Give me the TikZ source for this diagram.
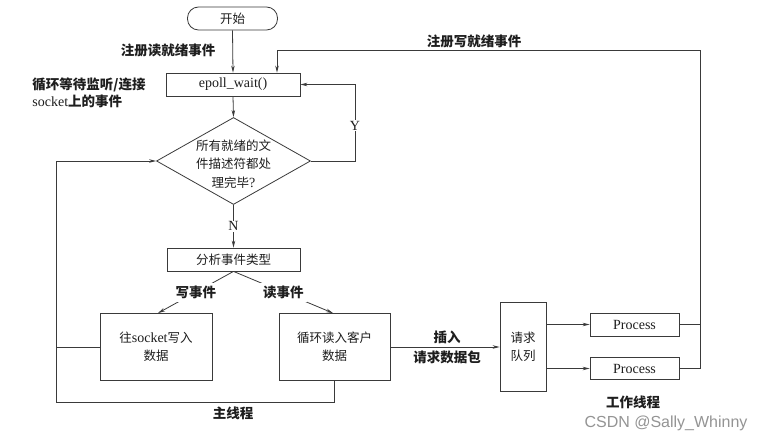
\documentclass[tikz,border=0pt]{standalone}
\usepackage{fontspec}
\setmainfont{Liberation Serif}
\newfontfamily\cjk{Noto Sans CJK SC}
\newfontfamily\wmfont{Liberation Sans}
\usetikzlibrary{shapes.geometric,arrows.meta}
\definecolor{ln}{HTML}{3A3A3A}
\definecolor{tx}{HTML}{1E1E1E}
\begin{document}
\begin{tikzpicture}[x=1pt,y=1pt,
  every node/.style={text=tx},
  conn/.style={draw=ln,line width=0.8pt},
  arr/.style={conn,-{Stealth[length=7pt,width=3.5pt]}},
  boxa/.style={draw=ln,line width=0.8pt,rectangle,inner sep=0pt,align=center,font=\cjk\fontsize{12.5}{16}\selectfont},
  lbl/.style={font=\cjk\bfseries\fontsize{13.5}{17}\selectfont,align=center,inner sep=1pt},
  lat/.style={font=\fontsize{14}{16}\selectfont}
]
\useasboundingbox (0,0) rectangle (765,-443);
\fill[white] (0,0) rectangle (765,-443);

% nodes
\node[boxa,rounded corners=11pt,minimum width=90pt,minimum height=23pt] (start) at (232.5,-18.5) {开始};
\node[boxa,minimum width=134pt,minimum height=23pt,lat] (epoll) at (233,-84.5) {epoll\_wait()};
\node[draw=ln,line width=0.8pt,diamond,minimum width=154pt,minimum height=87pt,inner sep=0pt] (dia) at (233.5,-161) {};
\node[font=\cjk\fontsize{12.5}{18.5}\selectfont,align=center] (diat) at (233.5,-164) {所有就绪的文\\件描述符都处\\理完毕{\fontsize{14}{16}\selectfont\rmfamily ?}};
\node[boxa,minimum width=133pt,minimum height=23pt] (ana) at (233.5,-259.5) {分析事件类型};
\node[boxa,minimum width=112pt,minimum height=67pt] (wbox) at (156,-347) {往{\rmfamily\fontsize{14}{16}\selectfont socket}写入\\[2pt]数据};
\node[boxa,minimum width=111pt,minimum height=67pt] (rbox) at (334.5,-347) {循环读入客户\\[2pt]数据};
\node[boxa,minimum width=46pt,minimum height=89pt] (queue) at (523,-347) {请求\\[2pt]队列};
\node[boxa,minimum width=89pt,minimum height=23pt,lat] (p1) at (634.5,-324.5) {Process};
\node[boxa,minimum width=89pt,minimum height=22pt,lat] (p2) at (634.5,-368.5) {Process};

% coordinates
\coordinate (rtop) at (700,-50);
\coordinate (yc) at (355,-161);
\coordinate (ml) at (56,-161);
\coordinate (mb) at (56,-402);

% labels
\node[lbl] (l1) at (168,-50) {注册读就绪事件};
\node[lbl] (l2) at (474,-41) {注册写就绪事件};
\node[lbl,align=left] (l3) at (89,-92.5) {循环等待监听/连接\\{\rmfamily\mdseries\fontsize{14}{16}\selectfont socket}上的事件};
\node[lbl] (l4) at (233,-413) {主线程};
\node[lbl] (l5) at (447,-337) {插入};
\node[lbl] (l6) at (447,-357) {请求数据包};
\node[lbl] (l7) at (633,-402) {工作线程};
\node[font=\wmfont\fontsize{16}{18}\selectfont,text=black!42] (wm) at (666,-423) {CSDN @Sally\_Whinny};

% connectors
\draw[arr] (start.south) -- (epoll.north);
\draw[arr] (epoll.south) -- (dia.north);
\draw[arr] (dia.east) -- (yc) |- (epoll.east) node[pos=0.23,fill=white,lat,inner sep=1pt] {Y};
\draw[arr] (dia.south) -- (ana.north) node[midway,fill=white,lat,inner sep=1pt] {N};
\draw[arr] (ana.south) -- ([xshift=2pt]wbox.north) node[midway,fill=white,lbl,inner sep=3pt] {写事件};
\draw[arr] (ana.south) -- ([xshift=-1.5pt]rbox.north) node[midway,fill=white,lbl,inner sep=3pt] {读事件};
\draw[arr] (rbox.south) -- (rbox.south |- mb) -- (mb) -- (ml) -- (dia.west);
\draw[conn] (wbox.west) -- (wbox.west -| ml);
\draw[arr] (rbox.east) -- (queue.west);
\draw[arr] (queue.east |- p1) -- (p1.west);
\draw[arr] (queue.east |- p2) -- (p2.west);
\draw[conn] (p1.east) -- (p1.east -| rtop);
\draw[arr] (p2.east) -- (p2.east -| rtop) -- (rtop) -- (rtop -| 277,0) -- ([xshift=44pt]epoll.north);
\end{tikzpicture}
\end{document}
